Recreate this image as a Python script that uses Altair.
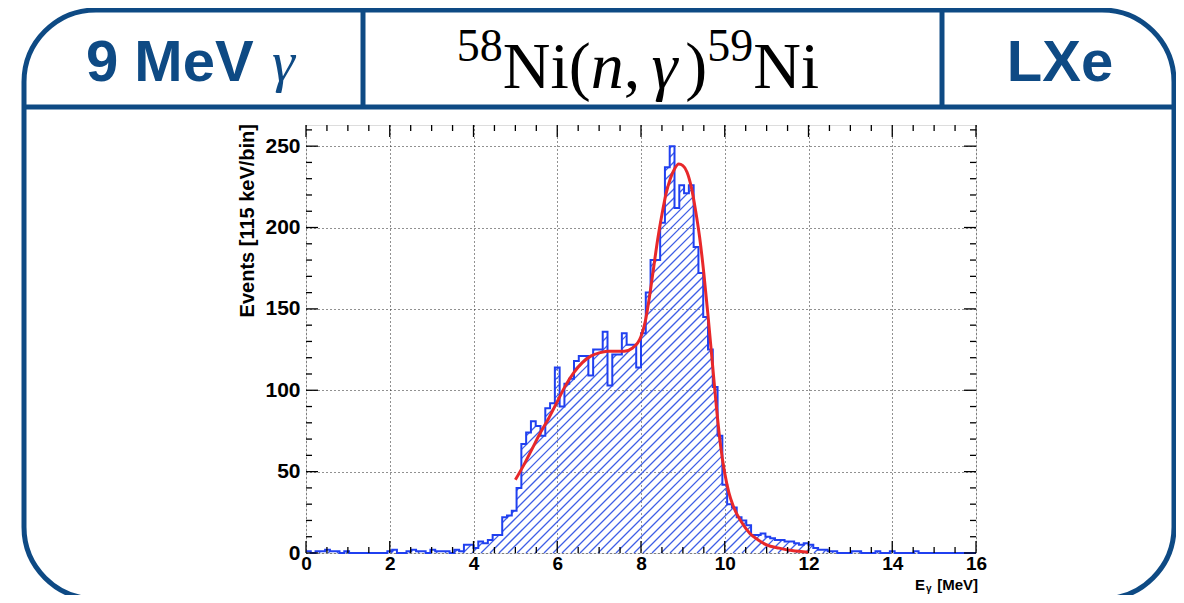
import altair as alt
import numpy as np
import pandas as pd

# ---------------- data ----------------
E_MIN, E_MAX, N_BINS = 0.0, 16.0, 140
counts = [1, 0, 1, 1, 2, 1, 1, 0, 1, 0, 0, 0, 0, 0, 0, 0, 0, 1, 2, 0,
          0, 1, 2, 1, 1, 0, 2, 1, 1, 1, 0, 2, 1, 5, 5, 3, 7, 6, 8, 11,
          11, 22, 23, 26, 40, 67, 74, 81, 78, 72, 89, 92, 114, 90, 104, 107, 118, 121, 121, 109,
          125, 125, 136, 103, 122, 122, 135, 128, 128, 114, 135, 160, 180, 180, 203, 237, 250, 212, 226, 221,
          226, 188, 172, 145, 125, 102, 72, 42, 30, 28, 22, 20, 17, 11, 11, 12, 10, 9, 8, 8,
          7, 7, 6, 5, 6, 5, 3, 2, 2, 1, 1, 0, 0, 0, 1, 1, 0, 0, 0, 1,
          0, 0, 1, 0, 0, 0, 0, 1, 0, 0, 0, 0, 0, 0, 0, 0, 0, 0, 0, 0]

fit_E = [5.0, 5.2, 5.4, 5.6, 5.8, 6.0, 6.2, 6.4, 6.6, 6.8, 7.0, 7.2, 7.4, 7.6, 7.8,
         8.0, 8.1, 8.2, 8.3, 8.4, 8.5, 8.6, 8.7, 8.8, 8.9, 9.0, 9.1, 9.2, 9.3, 9.4,
         9.5, 9.6, 9.7, 9.8, 9.9, 10.0, 10.1, 10.2, 10.4, 10.6, 10.8, 11.0, 11.3, 11.6, 12.0]
fit_N = [45, 54, 64, 74, 83, 93, 103, 111, 117, 121, 123, 124, 124, 124, 126,
         133, 142, 157, 175, 193, 208, 221, 230, 236, 239, 238, 234, 225, 211, 194,
         172, 146, 118, 90, 66, 49, 37, 29, 19, 12, 8, 5, 3, 1.5, 0.5]

x_major = [0, 2, 4, 6, 8, 10, 12, 14, 16]
x_minor = [v / 2 for v in range(0, 33) if v % 4 != 0]
y_major = [0, 50, 100, 150, 200, 250]
y_minor = [v for v in range(10, 261, 10) if v % 50 != 0]

header_left = "9 MeV"
header_gamma = "γ"
header_right = "LXe"
y_title = "Events [115 keV/bin]"

# ---------------- layout / style ----------------
W, H = 670, 428
Y_MAX = 263
BLUE_FRAME = "#0e4a84"
HIST_BLUE = "#2040f0"
HATCH_BLUE = "#3f5fe6"
FIT_RED = "#e8282a"
SANS = "Liberation Sans"
SERIF = "Liberation Serif"

edges = np.linspace(E_MIN, E_MAX, N_BINS + 1)
hist_df = pd.DataFrame({"E": edges, "N": counts + [counts[-1]]})
fit_df = pd.DataFrame({"E": fit_E, "N": fit_N})

# hatch segments (45 degree in pixel space) clipped to the histogram bars
kx, ky = W / (E_MAX - E_MIN), H / Y_MAX
spacing = 9.0
segs = []
for c in np.arange(-H, W + spacing, spacing):
    cur = None
    for i in range(N_BINS):
        a, b, h = edges[i] * kx, edges[i + 1] * kx, counts[i] * ky
        x1, x2 = max(a, c), min(b, c + h)
        if x2 > x1 + 1e-9:
            if cur is not None and abs(cur[1] - x1) < 1e-6:
                cur[1] = x2
            else:
                if cur is not None:
                    segs.append(cur)
                cur = [x1, x2, c]
        else:
            if cur is not None:
                segs.append(cur)
                cur = None
    if cur is not None:
        segs.append(cur)
hatch_df = pd.DataFrame({
    "E": [s[0] / kx for s in segs],
    "N": [(s[0] - s[2]) / ky for s in segs],
    "E2": [s[1] / kx for s in segs],
    "N2": [(s[1] - s[2]) / ky for s in segs],
})

xscale = alt.Scale(domain=[E_MIN, E_MAX], nice=False, zero=False)
yscale = alt.Scale(domain=[0, Y_MAX], nice=False, zero=True)
xaxis = alt.Axis(values=x_major, grid=True, ticks=False, domain=False,
                 labelFontSize=19, labelFontWeight="bold", labelFont=SANS,
                 labelColor="black", labelPadding=1, labelFlush=False,
                 labelOverlap=False, gridDash=[1, 3], gridColor="#222",
                 gridWidth=1, title=None, format="d")
yaxis = alt.Axis(values=y_major, grid=True, ticks=False, domain=False,
                 labelFontSize=21, labelFontWeight="bold", labelFont=SANS,
                 labelColor="black", labelPadding=6, labelFlush=False,
                 labelOverlap=False, gridDash=[1, 3], gridColor="#222",
                 gridWidth=1, title=None, format="d")
X = alt.X("E:Q", scale=xscale, axis=xaxis)
Y = alt.Y("N:Q", scale=yscale, axis=yaxis)

hatch = alt.Chart(hatch_df).mark_rule(color=HATCH_BLUE, strokeWidth=1.3).encode(
    x=X, y=Y, x2="E2:Q", y2="N2:Q")
outline = alt.Chart(hist_df).mark_line(interpolate="step-after", color=HIST_BLUE,
                                       strokeWidth=2).encode(x=X, y=Y)
fit = alt.Chart(fit_df).mark_line(interpolate="monotone", color=FIT_RED,
                                  strokeWidth=3).encode(x=X, y=Y)

one = pd.DataFrame({"a": [0]})


def xticks(vals, length, top):
    df = pd.DataFrame({"E": vals})
    if top:
        yv, y2v = 0, length
    else:
        yv, y2v = H, H - length
    return alt.Chart(df).mark_rule(color="black", strokeWidth=1.3).encode(
        x=X, y=alt.value(yv), y2=alt.value(y2v))


def yticks(vals, length, right):
    df = pd.DataFrame({"N": vals})
    if right:
        xv, x2v = W, W - length
    else:
        xv, x2v = 0, length
    return alt.Chart(df).mark_rule(color="black", strokeWidth=1.3).encode(
        y=Y, x=alt.value(xv), x2=alt.value(x2v))


ticks = [xticks(x_major, 12, False), xticks(x_minor, 6, False),
         xticks(x_major, 12, True), xticks(x_minor, 6, True),
         yticks(y_major, 12, False), yticks(y_minor, 6, False),
         yticks(y_major, 12, True), yticks(y_minor, 6, True)]


def text(t, x, y, size, font=SANS, weight="normal", style="normal",
         color="black", align="left", angle=0, baseline="alphabetic"):
    return alt.Chart(one).mark_text(text=t, font=font, fontSize=size,
                                    fontWeight=weight, fontStyle=style,
                                    color=color, align=align, angle=angle,
                                    baseline=baseline).encode(
        x=alt.value(x), y=alt.value(y))


# axis titles
TB = H + 37
titles = [
    text(y_title, -58, -1, 20, weight="bold", align="right", angle=270,
         baseline="middle"),
    text("[MeV]", 672, TB, 15, weight="bold", align="right"),
    text("E", 619, TB, 15, weight="bold", align="right"),
    text("γ", 620, TB + 2, 10, weight="bold", align="left"),
]

# frame (relative to plot origin)
FL, FR, FT, FB = -282, 868, -115, 474
HL = -18
frame = alt.Chart(one).mark_rect(fillOpacity=0, stroke=BLUE_FRAME, strokeWidth=5,
                                 cornerRadius=72).encode(
    x=alt.value(FL), x2=alt.value(FR), y=alt.value(FT), y2=alt.value(FB))
hline = alt.Chart(one).mark_rule(color=BLUE_FRAME, strokeWidth=5).encode(
    x=alt.value(FL), x2=alt.value(FR), y=alt.value(HL))
vline1 = alt.Chart(one).mark_rule(color=BLUE_FRAME, strokeWidth=5).encode(
    x=alt.value(57), y=alt.value(FT), y2=alt.value(HL))
vline2 = alt.Chart(one).mark_rule(color=BLUE_FRAME, strokeWidth=5).encode(
    x=alt.value(636), y=alt.value(FT), y2=alt.value(HL))

# header texts
HB = -44
head = [
    text(header_left, -220, HB, 58, weight="bold", color=BLUE_FRAME),
    text(header_gamma, -34, HB, 58, font=SERIF, style="italic", color=BLUE_FRAME),
    text(header_right, 754, HB, 58, weight="bold", color=BLUE_FRAME, align="center"),
]

# formula 58Ni(n,gamma)59Ni laid out piecewise
F = 66
FS = round(F * 0.7)
widths = {"5": 0.5, "8": 0.5, "9": 0.5, "N": 0.722, "i": 0.278, "(": 0.333,
          ")": 0.333, ",": 0.25, "n": 0.5, "γ": 0.47}
pieces = [("58", FS, "normal", -27), ("Ni(", F, "normal", 0), ("n", F, "italic", 0),
          (",", F, "normal", 0), ("γ", F, "italic", 0), (")", F, "normal", 0),
          ("59", FS, "normal", -27), ("Ni", F, "normal", 0)]
extra = {",": 0.17 * F, "γ": 0.04 * F}
total = sum(sum(widths[ch] for ch in p[0]) * p[1] + extra.get(p[0], 0) for p in pieces)
cx = 638 - 306
xpos = cx - total / 2
FBASE = -37
formula = []
for t, sz, st, dy in pieces:
    formula.append(text(t, xpos, FBASE + dy, sz, font=SERIF, style=st))
    xpos += sum(widths[ch] for ch in t) * sz + extra.get(t, 0)

chart = alt.layer(
    hatch, outline, fit, *ticks, *titles, frame, hline, vline1, vline2, *head, *formula
).properties(
    width=W, height=H,
    padding={"left": 298, "top": 117, "right": 200, "bottom": 42},
    autosize=alt.AutoSizeParams(type="none"),
).configure_view(stroke="black", strokeWidth=1.5).configure(background="white")

chart.save("out.html", embed_options={"renderer": "svg", "actions": False})
